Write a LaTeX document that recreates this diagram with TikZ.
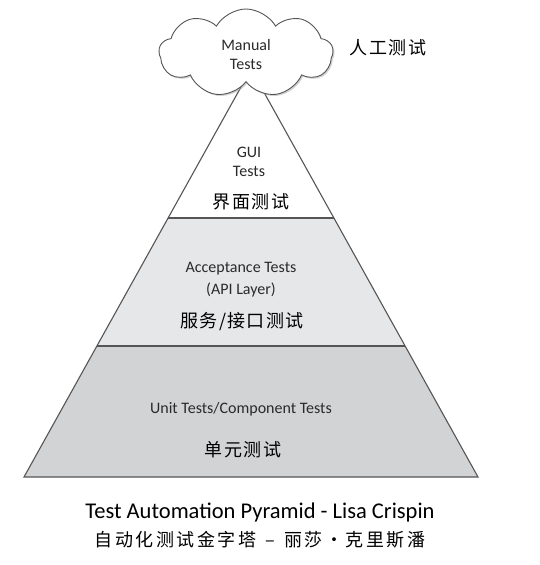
\documentclass[tikz,border=0pt]{standalone}
\usepackage{fontspec}
\setmainfont{Carlito}
\newfontfamily\cjk[LetterSpace=8]{Noto Sans CJK SC}
\newfontfamily\cjkwide[LetterSpace=14]{Noto Sans CJK SC}
\usetikzlibrary{shapes.symbols,shadows}
\definecolor{edgec}{HTML}{555555}
\definecolor{midfill}{HTML}{E6E7E8}
\definecolor{lowfill}{HTML}{D2D3D5}
\definecolor{labc}{HTML}{2A2A2A}
\tikzset{
  layerline/.style={draw=edgec, line width=1.1pt, line join=miter},
  en/.style={font=\fontsize{16}{18}\selectfont, text=labc, inner sep=0pt},
  zh/.style={font=\cjk\fontsize{18}{20}\selectfont, text=black, inner sep=0pt},
}
\begin{document}
\begin{tikzpicture}[x=1pt,y=-1pt]
\useasboundingbox (0,0) rectangle (539,565);
\coordinate (apex) at (251,69);
\coordinate (bl) at (24,477);
\coordinate (br) at (478,477);
\coordinate (ml) at (96.9,346);
\coordinate (mr) at (405.1,346);
\coordinate (ul) at (168.1,218);
\coordinate (ur) at (333.9,218);
\fill[lowfill] (ml) -- (mr) -- (br) -- (bl) -- cycle;
\fill[midfill] (ul) -- (ur) -- (mr) -- (ml) -- cycle;
\fill[white] (apex) -- (ur) -- (ul) -- cycle;
\draw[layerline] (apex) -- (bl) -- (br) -- cycle;
\draw[layerline] (ul) -- (ur);
\draw[layerline] (ml) -- (mr);
\node[cloud, draw=edgec, fill=white, line width=0.9pt, cloud puffs=9, cloud puff arc=120, aspect=2,
      minimum width=174pt, minimum height=88pt, inner sep=0pt,
      drop shadow={shadow xshift=1.5pt, shadow yshift=-1.5pt, fill=black!35}] (cloud) at (246,53) {};
\node[en] (manual) at (246,45) {Manual};
\node[en] (mtests) at (246,64) {Tests};
\node[zh] (rengong) at (388,48) {人工测试};
\node[en] (gui) at (249,152) {GUI};
\node[en] (guitests) at (249,171) {Tests};
\node[zh] (jiemian) at (251,202) {界面测试};
\node[en] (accept) at (241,269) {Acceptance Tests};
\node[en] (api) at (241,290) {(API Layer)};
\node[zh] (fuwu) at (242,322) {服务/接口测试};
\node[en] (unit) at (241,409) {Unit Tests/Component Tests};
\node[zh] (danyuan) at (243,450) {单元测试};
\node[font=\fontsize{22.5}{24}\selectfont, inner sep=0pt] (title) at (260,512) {Test Automation Pyramid - Lisa Crispin};
\node[font=\cjkwide\fontsize{18}{20}\selectfont, inner sep=0pt] (titlezh) at (260,540) {自动化测试金字塔\hspace{9pt}–\hspace{9pt}丽莎·克里斯潘};
\end{tikzpicture}
\end{document}
